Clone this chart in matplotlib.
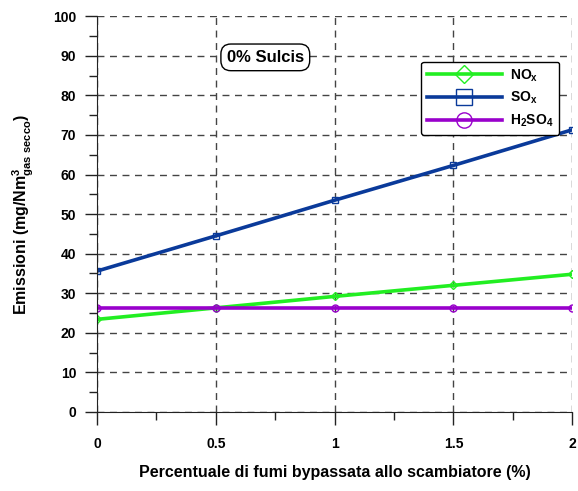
import matplotlib
matplotlib.use("Agg")
import matplotlib.pyplot as plt
from matplotlib.ticker import MultipleLocator

plt.rcParams['font.family'] = ['Liberation Sans', 'DejaVu Sans']
plt.rcParams['mathtext.fontset'] = 'custom'
plt.rcParams['mathtext.rm'] = 'Liberation Sans:bold'
plt.rcParams['mathtext.it'] = 'Liberation Sans:bold'
plt.rcParams['mathtext.bf'] = 'Liberation Sans:bold'

x = [0, 0.5, 1, 1.5, 2]
nox = [23.4, 26.3, 29.2, 32.0, 34.8]
sox = [35.6, 44.5, 53.5, 62.3, 71.3]
h2so4 = [26.3, 26.3, 26.3, 26.3, 26.3]

series_labels = ['NO$_x$', 'SO$_x$', 'H$_2$SO$_4$']
series_colors = ['#22EE22', '#0A3A9A', '#9900CC']
series_markers = ['D', 's', 'o']

fig = plt.figure(figsize=(5.78, 4.91), dpi=100)
ax = fig.add_axes([0.168, 0.161, 0.822, 0.806])

for y, lab, c, m in zip([nox, sox, h2so4], series_labels, series_colors, series_markers):
    ms = 4 if m == 'D' else 5
    ax.plot(x, y, color=c, lw=2.6, marker=m, ms=ms, mfc='none', mec=c, mew=1.0, label=lab)

ax.set_xlim(0, 2)
ax.set_ylim(0, 100)
ax.xaxis.set_major_locator(MultipleLocator(0.5))
ax.xaxis.set_minor_locator(MultipleLocator(0.25))
ax.yaxis.set_major_locator(MultipleLocator(10))
ax.yaxis.set_minor_locator(MultipleLocator(5))
ax.set_xticks([0, 0.5, 1, 1.5, 2])
ax.set_xticklabels(['0', '0.5', '1', '1.5', '2'])

ax.grid(True, which='major', color='#444444', ls=(0, (5, 4)), lw=1.0)
for s in ['top', 'right']:
    ax.spines[s].set_visible(False)
for s in ['left', 'bottom']:
    ax.spines[s].set_color('#222222')
ax.tick_params(which='major', direction='out', length=9, width=1, color='#222222', labelsize=10, pad=6)
ax.tick_params(which='minor', direction='out', length=6, width=1, color='#222222')
for t in ax.get_xticklabels() + ax.get_yticklabels():
    t.set_fontweight('bold')
ax.tick_params(axis='x', pad=9)

ax.set_xlabel('Percentuale di fumi bypassata allo scambiatore (%)', fontsize=11.5, fontweight='bold', labelpad=10)
ax.set_ylabel('Emissioni (mg/Nm$^3_{gas\\ secco}$)', fontsize=11.5, fontweight='bold', labelpad=12)

ax.text(0.354, 0.896, '0% Sulcis', transform=ax.transAxes, ha='center', va='center', fontsize=12,
        fontweight='bold', bbox=dict(boxstyle='round,pad=0.35,rounding_size=0.6', fc='white', ec='black', lw=1))

leg = ax.legend(loc='upper right', bbox_to_anchor=(0.973, 0.885), fancybox=True, framealpha=1,
                edgecolor='black', handlelength=5.4, markerscale=2.2,
                prop={'weight': 'bold', 'size': 10}, borderpad=0.4, labelspacing=0.45,
                handletextpad=0.6, borderaxespad=0)
leg.get_frame().set_linewidth(1.0)

fig.savefig('out.png', dpi=100)
